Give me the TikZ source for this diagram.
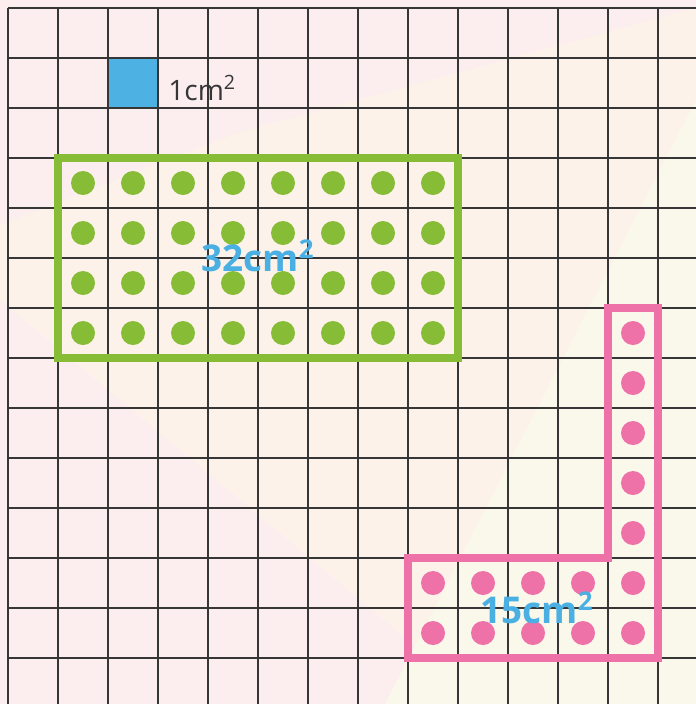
\documentclass[tikz,border=0pt]{standalone}
\usepackage{fontspec}
\setmainfont{Open Sans}
\usepackage{xcolor}
\usepackage{tikz}
\usetikzlibrary{positioning}

\definecolor{gridline}{HTML}{363636}
\definecolor{bgpink}{HTML}{FCEEEE}
\definecolor{bgpeach}{HTML}{FDF2E9}
\definecolor{bgcream}{HTML}{F9F8EA}
\definecolor{unitblue}{HTML}{4DB1E3}
\definecolor{areagreen}{HTML}{87BC37}
\definecolor{areapink}{HTML}{EE72A8}
\definecolor{labelblue}{HTML}{4AAFE3}

\begin{document}
\begin{tikzpicture}[
  gridrule/.style = {draw=gridline, line width=1.1pt},
  outline/.style  = {line width=4pt, line join=miter},
  dot/.style      = {radius=0.24},
  unitlabel/.style = {font=\fontsize{16}{16}\selectfont, text=gridline,
                      inner sep=0pt},
  arealabel/.style = {font=\bfseries\fontsize{21}{21}\selectfont,
                      text=labelblue, inner sep=0pt}
]
  \useasboundingbox (-0.16,0.16) rectangle (13.76,-13.92);

  % background bands
  \fill[bgpink]  (-0.16,0.16) rectangle (13.76,-13.92);
  \fill[bgpeach] (-0.16,-4.34) -- (4.64,-2.48) -- (13.76,0) -- (13.76,-13.92) -- (-0.16,-13.92) -- cycle;
  \fill[bgpink]  (-0.16,-5.84) -- (8.14,-12.76) -- (7.54,-13.92) -- (-0.16,-13.92) -- cycle;
  \fill[bgcream] (7.54,-13.92) -- (13.76,-1.84) -- (13.76,-13.92) -- cycle;

  % unit square
  \fill[unitblue] (2,-1) rectangle (3,-2);

  % grid
  \foreach \i in {0,...,13}
    \draw[gridrule] (\i,0) -- (\i,-13.92);
  \foreach \j in {0,...,13}
    \draw[gridrule] (0,-\j) -- (13.76,-\j);

  \node[unitlabel, anchor=west] (unitnote) at (3.2,-1.6) {1cm\textsuperscript{2}};

  % green rectangle
  \draw[outline, draw=areagreen] (1,-3) rectangle (9,-7);
  \foreach \c in {1,...,8}
    \foreach \r in {3,...,6}
      \fill[areagreen] (\c+0.5,-\r-0.5) circle[dot];
  \node[arealabel] (greenarea) at (5,-4.95) {32cm\textsuperscript{2}};

  % pink L shape
  \draw[outline, draw=areapink] (12,-6) -- (13,-6) -- (13,-13) -- (8,-13)
    -- (8,-11) -- (12,-11) -- cycle;
  \foreach \r in {6,...,12}
    \fill[areapink] (12.5,-\r-0.5) circle[dot];
  \foreach \c in {8,...,11}
    \foreach \r in {11,12}
      \fill[areapink] (\c+0.5,-\r-0.5) circle[dot];
  \node[arealabel] (pinkarea) at (10.58,-12.0) {15cm\textsuperscript{2}};
\end{tikzpicture}
\end{document}
